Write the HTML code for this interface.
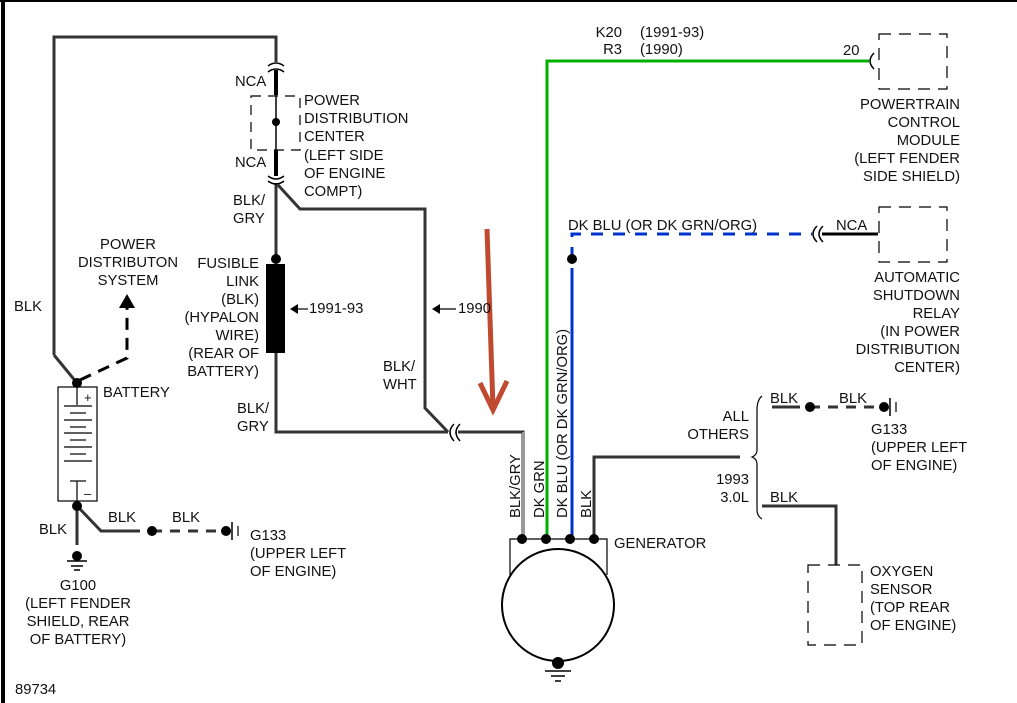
<!DOCTYPE html>
<html><head><meta charset="utf-8"><style>
html,body{margin:0;padding:0;background:#fff;}
svg{display:block;}
text{font-family:"Liberation Sans",sans-serif;font-size:14.8px;fill:#111;}
</style></head><body>
<svg width="1017" height="703" viewBox="0 0 1017 703">
<rect x="0" y="0" width="1017" height="703" fill="#fff"/>
<line x1="3" y1="0" x2="3" y2="703" stroke="#000" stroke-width="4"/>
<line x1="0" y1="1" x2="1017" y2="1" stroke="#000" stroke-width="2"/>

<g fill="none" stroke="#333" stroke-width="3">
<polyline points="54,355 54,37 276,37 276,62"/>
<polyline points="54,355 77,383"/>
<line x1="276" y1="183" x2="276" y2="262"/>
<polyline points="276,352 276,432 448,432"/>
<polyline points="278,185 300,209 425,209 425,408 448,432"/>
<polyline points="458,432 523,432 523,539"/>
<polyline points="594,539 594,457 740,457"/>
<line x1="77" y1="506" x2="77" y2="545"/>
<polyline points="79,508 101,531 140,531"/>
<line x1="772" y1="407" x2="800" y2="407"/>
<polyline points="762,506 836,506 836,565"/>
</g>
<polyline points="523,432 523,539" fill="none" stroke="#999" stroke-width="2"/>
<g fill="none" stroke="#000" stroke-width="1.5">
<path d="M268,66 Q276,60 284,66"/><path d="M268,72 Q276,66 284,72"/>
<path d="M268,176 Q276,182 284,176"/><path d="M268,181 Q276,187 284,181"/>
<path d="M454,424 Q446,432 454,441"/><path d="M460,424 Q452,432 460,441"/>
<path d="M874,53 Q866,61 874,69"/>
<path d="M817,226 Q809,234 817,242"/><path d="M823,226 Q815,234 823,242"/>
</g>
<line x1="276" y1="70" x2="276" y2="95" stroke="#000" stroke-width="4"/>
<line x1="276" y1="95" x2="276" y2="150" stroke="#000" stroke-width="1.5"/>
<line x1="276" y1="150" x2="276" y2="176" stroke="#000" stroke-width="4"/>
<rect x="251" y="96" width="49" height="54" fill="none" stroke="#000" stroke-width="1.2" stroke-dasharray="10,7"/>
<circle cx="276" cy="122" r="4"/>
<circle cx="276" cy="259" r="5"/>
<rect x="266" y="264" width="19" height="89" fill="#000"/>
<line x1="296" y1="309" x2="308" y2="309" stroke="#000" stroke-width="1.2"/><polygon points="290,309 298,304 298,314"/>
<line x1="438" y1="309" x2="456" y2="309" stroke="#000" stroke-width="1.2"/><polygon points="432,309 440,304 440,314"/>
<polyline points="547,539 547,61 869,61" fill="none" stroke="#00b000" stroke-width="3"/>
<line x1="572" y1="539" x2="572" y2="268" stroke="#0033cc" stroke-width="3"/>
<polyline points="572,259 572,234 812,234" fill="none" stroke="#0033cc" stroke-width="3" stroke-dasharray="12,10"/>
<circle cx="572" cy="259" r="5"/>
<line x1="822" y1="234" x2="878" y2="234" stroke="#000" stroke-width="3"/>
<g fill="none" stroke="#000" stroke-width="1.2" stroke-dasharray="12,8">
<rect x="879" y="34" width="68" height="55"/>
<rect x="879" y="207" width="68" height="55"/>
<rect x="808" y="565" width="54" height="80"/>
</g>
<g stroke="#c04a30" stroke-width="5" fill="none" stroke-linecap="butt">
<line x1="487" y1="229" x2="493" y2="408"/>
<polyline points="480,383 493,410 507,381"/>
</g>
<polyline points="510,575 510,539 607,539 607,575" fill="none" stroke="#000" stroke-width="1.2"/>
<circle cx="558" cy="605" r="56" fill="none" stroke="#000" stroke-width="2"/>
<circle cx="522" cy="539" r="5"/><circle cx="546" cy="539" r="5"/><circle cx="570" cy="539" r="5"/><circle cx="594" cy="539" r="5"/>
<circle cx="558" cy="663" r="6"/>
<g stroke="#000" stroke-width="1.5"><line x1="545" y1="671" x2="571" y2="671"/><line x1="551" y1="676" x2="565" y2="676"/><line x1="555" y1="681" x2="561" y2="681"/></g>
<path d="M762,396 Q757,400 757,410 L757,450 Q757,455 752,457 Q757,459 757,464 L757,510 Q757,516 762,519" fill="none" stroke="#000" stroke-width="1.2"/>
<line x1="810" y1="407" x2="884" y2="407" stroke="#333" stroke-width="3" stroke-dasharray="10,8"/>
<circle cx="810" cy="407" r="5"/><circle cx="884" cy="407" r="5"/>
<line x1="890" y1="398" x2="890" y2="416" stroke="#000" stroke-width="1.5"/><line x1="896" y1="402" x2="896" y2="412" stroke="#000" stroke-width="1.2"/>
<rect x="58" y="387" width="39" height="114" fill="none" stroke="#000" stroke-width="1.2"/>
<circle cx="77" cy="383" r="5"/><circle cx="77" cy="506" r="5"/>
<g stroke="#000" stroke-width="1.2">
<line x1="77" y1="387" x2="77" y2="405"/>
<line x1="64" y1="406" x2="92" y2="406"/><line x1="70" y1="413" x2="86" y2="413"/>
<line x1="64" y1="420" x2="92" y2="420"/><line x1="70" y1="427" x2="86" y2="427"/>
<line x1="64" y1="433" x2="92" y2="433"/><line x1="70" y1="440" x2="86" y2="440"/>
<line x1="64" y1="447" x2="92" y2="447"/><line x1="70" y1="454" x2="86" y2="454"/>
<line x1="64" y1="461" x2="92" y2="461"/><line x1="70" y1="481" x2="86" y2="481"/>
<line x1="77" y1="481" x2="77" y2="501"/>
</g>
<text x="84" y="402" style="font-size:13px">+</text><text x="84" y="498" style="font-size:13px">–</text>
<polyline points="80,380 127,358 127,305" fill="none" stroke="#000" stroke-width="3" stroke-dasharray="12,8"/>
<polygon points="127,294 119,308 135,308"/>
<circle cx="77" cy="556" r="5"/>
<g stroke="#000" stroke-width="1.5"><line x1="67" y1="561" x2="87" y2="561"/><line x1="71" y1="566" x2="83" y2="566"/><line x1="74" y1="570" x2="80" y2="570"/></g>
<line x1="152" y1="531" x2="226" y2="531" stroke="#333" stroke-width="3" stroke-dasharray="10,8"/>
<circle cx="152" cy="531" r="5"/><circle cx="226" cy="531" r="5"/>
<line x1="232" y1="522" x2="232" y2="540" stroke="#000" stroke-width="1.5"/><line x1="238" y1="526" x2="238" y2="536" stroke="#000" stroke-width="1.2"/>

<text x="235" y="86">NCA</text>
<text x="235" y="167">NCA</text>
<text x="304" y="105">POWER</text><text x="304" y="123">DISTRIBUTION</text><text x="304" y="141">CENTER</text>
<text x="304" y="160">(LEFT SIDE</text><text x="304" y="178">OF ENGINE</text><text x="304" y="196">COMPT)</text>
<text x="233" y="205">BLK/</text><text x="233" y="223">GRY</text>
<text x="128" y="249" text-anchor="middle">POWER</text><text x="128" y="267" text-anchor="middle">DISTRIBUTON</text><text x="128" y="285" text-anchor="middle">SYSTEM</text>
<g text-anchor="end"><text x="259" y="268">FUSIBLE</text><text x="259" y="286">LINK</text><text x="259" y="304">(BLK)</text><text x="259" y="322">(HYPALON</text><text x="259" y="340">WIRE)</text><text x="259" y="358">(REAR OF</text><text x="259" y="376">BATTERY)</text></g>
<text x="309" y="313">1991-93</text><text x="458" y="313">1990</text>
<text x="14" y="311">BLK</text>
<text x="103" y="397">BATTERY</text>
<text x="237" y="413">BLK/</text><text x="237" y="431">GRY</text>
<text x="383" y="371">BLK/</text><text x="383" y="389">WHT</text>
<text x="39" y="534">BLK</text><text x="108" y="522">BLK</text><text x="172" y="522">BLK</text>
<text x="250" y="540">G133</text><text x="250" y="558">(UPPER LEFT</text><text x="250" y="576">OF ENGINE)</text>
<g text-anchor="middle"><text x="78" y="590">G100</text><text x="78" y="608">(LEFT FENDER</text><text x="78" y="626">SHIELD, REAR</text><text x="78" y="644">OF BATTERY)</text></g>
<text x="15" y="694">89734</text>
<text x="622" y="37" text-anchor="end">K20</text><text x="622" y="54" text-anchor="end">R3</text>
<text x="640" y="37">(1991-93)</text><text x="640" y="54">(1990)</text>
<text x="843" y="55">20</text>
<g text-anchor="end"><text x="960" y="109">POWERTRAIN</text><text x="960" y="127">CONTROL</text><text x="960" y="145">MODULE</text><text x="960" y="163">(LEFT FENDER</text><text x="960" y="181">SIDE SHIELD)</text>
<text x="960" y="282">AUTOMATIC</text><text x="960" y="300">SHUTDOWN</text><text x="960" y="318">RELAY</text><text x="960" y="336">(IN POWER</text><text x="960" y="354">DISTRIBUTION</text><text x="960" y="372">CENTER)</text>
<text x="749" y="421">ALL</text><text x="749" y="439">OTHERS</text><text x="749" y="484">1993</text><text x="749" y="502">3.0L</text></g>
<text x="568" y="230">DK BLU (OR DK GRN/ORG)</text>
<text x="836" y="230">NCA</text>
<text x="770" y="403">BLK</text><text x="839" y="403">BLK</text>
<text x="770" y="502">BLK</text>
<text x="871" y="434">G133</text><text x="871" y="452">(UPPER LEFT</text><text x="871" y="470">OF ENGINE)</text>
<text x="614" y="548">GENERATOR</text>
<text x="870" y="576">OXYGEN</text><text x="870" y="594">SENSOR</text><text x="870" y="612">(TOP REAR</text><text x="870" y="630">OF ENGINE)</text>
<text transform="translate(520,518) rotate(-90)">BLK/GRY</text>
<text transform="translate(544,518) rotate(-90)">DK GRN</text>
<text transform="translate(567,518) rotate(-90)">DK BLU (OR DK GRN/ORG)</text>
<text transform="translate(591,518) rotate(-90)">BLK</text>
</svg>
</body></html>
